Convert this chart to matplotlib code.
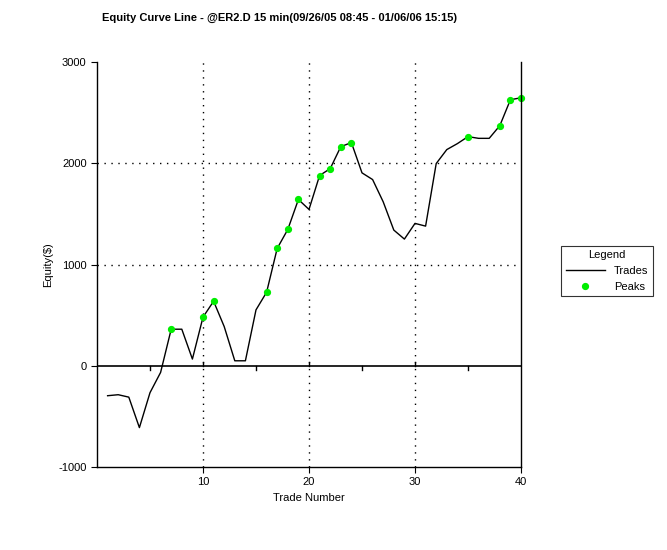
import matplotlib
matplotlib.use("Agg")
import matplotlib.pyplot as plt
from matplotlib.lines import Line2D

plt.rcParams['font.family'] = ['Liberation Sans', 'DejaVu Sans']
plt.rcParams['font.size'] = 8
plt.rcParams['axes.unicode_minus'] = False

trades = list(range(1, 41))
equity = [-296, -286, -310, -611, -266, -66, 361, 361, 66, 480, 637, 387, 49, 49, 552,
          726, 1159, 1346, 1642, 1544, 1879, 1947, 2164, 2204, 1905, 1839, 1619, 1340,
          1251, 1406, 1379, 1997, 2135, 2194, 2263, 2246, 2246, 2371, 2627, 2647]
peak_idx = [7, 10, 11, 16, 17, 18, 19, 21, 22, 23, 24, 35, 38, 39, 40]
peak_vals = [equity[i - 1] for i in peak_idx]

fig = plt.figure(figsize=(6.67, 5.5), dpi=100)
ax = fig.add_axes([97/667, 1 - 467/550, (521-97)/667, (467-62)/550])
ax.set_xlim(0, 40)
ax.set_ylim(-1000, 3000)
ax.spines['top'].set_visible(False)
for s in ['left', 'bottom', 'right']:
    ax.spines[s].set_linewidth(1)
ax.set_xticks([10, 20, 30, 40])
ax.set_yticks([-1000, 0, 1000, 2000, 3000])
ax.tick_params(direction='out', length=4)
for x in [10, 20, 30]:
    ax.axvline(x, color='black', linestyle=(0, (1, 4)), linewidth=1)
for y in [1000, 2000]:
    ax.axhline(y, color='black', linestyle=(0, (1, 4)), linewidth=1)
ax.axhline(0, color='black', linewidth=1.2)
for x in [5, 15, 25, 35]:
    ax.plot([x, x], [-40, 0], color='black', linewidth=1)
for x in [10, 20, 30]:
    ax.plot([x, x], [0, 40], color='black', linewidth=1)

ax.plot(trades, equity, color='black', linewidth=1)
ax.plot(peak_idx, peak_vals, 'o', color='#00ee00', markersize=4.2, clip_on=False)

ax.set_xlabel('Trade Number')
ax.set_ylabel('Equity($)')
fig.text(280/667, 1 - 18/550, 'Equity Curve Line - @ER2.D 15 min(09/26/05 08:45 - 01/06/06 15:15)',
         ha='center', va='center', fontweight='bold', fontsize=8)

handles = [Line2D([], [], color='black', linewidth=1),
           Line2D([], [], marker='o', color='#00ee00', linestyle='None', markersize=4.2)]
leg = fig.legend(handles, ['Trades', 'Peaks'], title='Legend', loc='center',
                 bbox_to_anchor=(607/667, 1 - 271/550), frameon=True, fancybox=False,
                 edgecolor='black', markerfirst=True, handlelength=3.5, fontsize=8)
leg.get_frame().set_linewidth(0.8)
fig.savefig('out.png', dpi=100)
